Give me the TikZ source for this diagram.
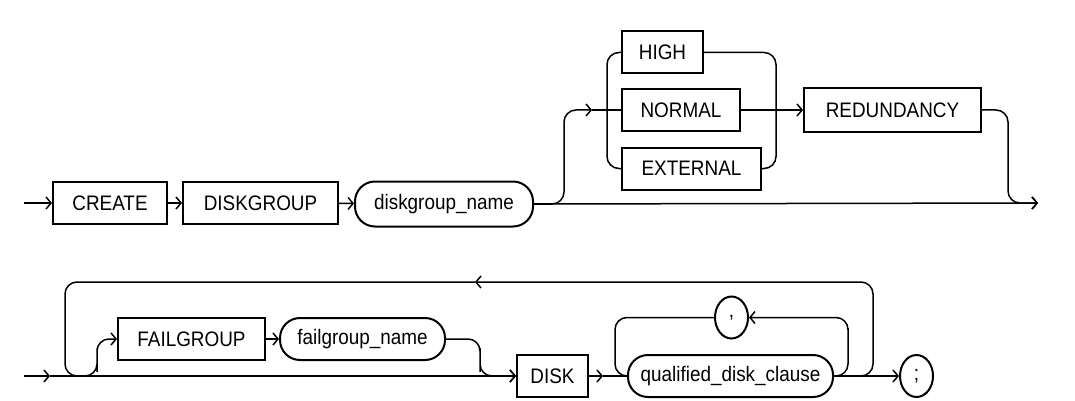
\documentclass[tikz,border=0pt]{standalone}
\usepackage{fontspec}
\setmainfont{Liberation Sans}[FakeStretch=0.9]
\usetikzlibrary{arrows.meta}
\usetikzlibrary{shapes.geometric}
\tikzset{x=1pt, y=-1pt, % Units of the reference picture
font=\fontsize{21}{24}\selectfont,
kwbox/.style={ % Keywords in square boxes
draw, line width=2pt, minimum height=42pt, inner sep=0pt},
varbox/.style={ % Names and clauses with round ends
draw, line width=2pt, minimum height=42pt, inner sep=0pt, rounded corners=20pt},
punct/.style={ % Single characters
draw, ellipse, line width=2pt, minimum width=33pt, minimum height=42pt, inner sep=0pt},
rail/.style={ % Lines between the boxes
line width=1.5pt, rounded corners=12pt},
arr/.style={ % Open arrow heads
-{Straight Barb[length=5pt,width=12pt]}}}

\begin{document}
\begin{tikzpicture}
\useasboundingbox (0,0) rectangle (1075,401);
% first row
\coordinate (s1) at (24,203);
\node[kwbox, minimum width=114pt] (create) at (110,203) {CREATE};
\node[kwbox, minimum width=155pt] (diskgroup) at (260.5,203) {DISKGROUP};
\node[varbox, minimum width=178pt, minimum height=45pt] (dgname) at (444,204) {diskgroup\_name};
\node[kwbox, minimum width=81pt] (high) at (662.5,52.5) {HIGH};
\node[kwbox, minimum width=118pt] (normal) at (681,110) {NORMAL};
\node[kwbox, minimum width=139pt] (external) at (691.5,168.5) {EXTERNAL};
\node[kwbox, minimum width=177pt, minimum height=44pt] (redund) at (892.5,110) {REDUNDANCY};
\coordinate (ca) at (592,110);
\coordinate (e1) at (1038,203);

\draw[rail, arr] (s1) -- (create);
\draw[rail, arr] (create) -- (diskgroup);
\draw[rail, arr] (diskgroup) -- (dgname);
\draw[rail, arr] (dgname.east) -| (564,150) |- (ca);
\draw[rail] (ca) -- (normal);
\draw[rail] (high.west) -| (607,110) |- (external.west);
\draw[rail] (high.east) -| (776,110) |- (external.east);
\draw[rail, arr] (normal) -- (redund);
\draw[rail, arr] (redund.east) -| (1008,150) |- (e1);
\draw[rail, arr] (dgname.east) -- (e1);

% second row
\coordinate (s2) at (24,376);
\coordinate (a2) at (50,376);
\coordinate (fj) at (80,376);
\coordinate (r1) at (475,282);
\node[kwbox, minimum width=147pt] (fail) at (191.5,339) {FAILGROUP};
\node[varbox, minimum width=165pt] (fgname) at (362.5,339) {failgroup\_name};
\node[kwbox, minimum width=71pt] (disk) at (552.5,376) {DISK};
\node[varbox, minimum width=205pt] (qdc) at (730.5,376) {qualified\_disk\_clause};
\node[punct] (comma) at (731.5,317.5) {,};
\node[punct] (semi) at (916.5,376) {;};
\coordinate (d2) at (603,376);

\draw[rail, arr] (s2) -- (a2);
\draw[rail, arr] (a2) -- (disk);
\draw[rail, arr] (fj) -| (97,360) |- (fail);
\draw[rail, arr] (fail) -- (fgname);
\draw[rail, arr] (fgname.east) -| (480,360) |- (disk.west);
\draw[rail, arr] (disk) -- (d2);
\draw[rail] (d2) -- (qdc);
\draw[rail, arr] (qdc.east) -| (848,340) |- (comma.east);
\draw[rail] (comma.west) -| (615,340) |- (qdc.west);
\draw[rail, arr] (qdc.east) -| (873,330) |- (r1);
\draw[rail] (r1) -| (65,330) |- (fj);
\draw[rail, arr] (qdc.east) -- (semi);
\end{tikzpicture}
\end{document}
